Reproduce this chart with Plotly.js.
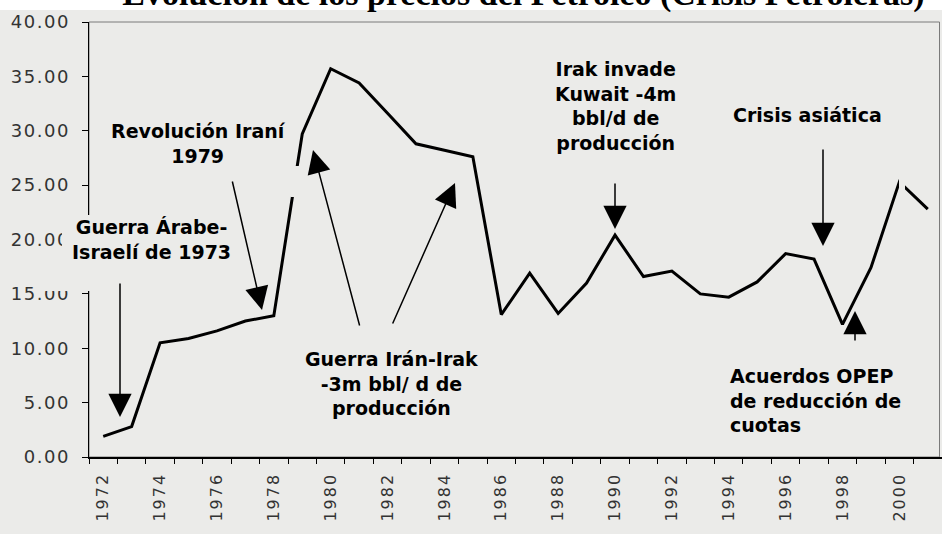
<!DOCTYPE html>
<html><head><meta charset="utf-8">
<script src="https://cdn.plot.ly/plotly-3.0.1.min.js"></script>
<style>
html,body{margin:0;padding:0;background:#ebebe9}
.xtick text{letter-spacing:2px}
.ytick text{letter-spacing:1.5px}
</style>
</head><body><div id="chart" style="width:942px;height:534px"></div>
<script>
// ---- data ----
const years = ["1972","1973","1974","1975","1976","1977","1978","1979","1980","1981",
               "1982","1983","1984","1985","1986","1987","1988","1989","1990","1991",
               "1992","1993","1994","1995","1996","1997","1998","1999","2000","2001"];
const prices = [1.9, 2.8, 10.5, 10.9, 11.6, 12.5, 13.0, 29.7, 35.7, 34.4,
                31.6, 28.8, 28.2, 27.6, 13.1, 16.9, 13.2, 16.0, 20.4, 16.6,
                17.1, 15.0, 14.7, 16.1, 18.7, 18.2, 12.2, 17.4, 25.3, 22.8];
const yTicks = [0, 5, 10, 15, 20, 25, 30, 35, 40];
const titleText = "Evolución de los precios del Petróleo (Crisis Petroleras)";
const notes = [
  {lines: ["Revolución Iraní", "1979"]},
  {lines: ["Guerra Árabe-", "Israelí de 1973"]},
  {lines: ["Guerra Irán-Irak", "-3m bbl/ d de", "producción"]},
  {lines: ["Irak invade", "Kuwait -4m", "bbl/d de", "producción"]},
  {lines: ["Crisis asiática"]},
  {lines: ["Acuerdos OPEP", "de reducción de", "cuotas"]}
];
const xTickText = years.map(y => (parseInt(y) % 2 === 0 ? y : ""));

// ---- geometry helpers (layout only) ----
const W = 942, H = 534, L = 89, R = 0, T = 22, B = 77;
const PW = W - L - R, PH = H - T - B;
const fx = p => (p - L) / PW;
const fy = p => (H - B - p) / PH;
const BG = "#ebebe9";

// text placements: [centerX or leftX, centerY, anchor]
const notePos = [
  [198, 143, "center"],
  [151, 239, "center"],
  [391, 383, "center"],
  [615, 106, "center"],
  [807, 115, "center"],
  [728, 400, "left"]
];
const annFont = {family: "DejaVu Sans", size: 19, color: "#000"};
const annotations = notes.map((n, i) => ({
  xref: "paper", yref: "paper",
  x: fx(notePos[i][0]), y: fy(notePos[i][1]),
  xanchor: notePos[i][2], yanchor: "middle", align: notePos[i][2],
  text: n.lines.map(s => "<b>" + s + "</b>").join("<br>"),
  showarrow: false, font: annFont
}));

function arrow(tx, ty, hx, hy) {
  return {xref: "paper", yref: "paper", x: fx(hx), y: fy(hy),
    ax: tx - hx, ay: ty - hy, text: "", showarrow: true,
    arrowhead: 2, arrowsize: 3.1, arrowwidth: 1.5, arrowcolor: "#000", standoff: 0};
}
annotations.push(
  arrow(120, 282, 120, 417),
  arrow(232, 180, 262, 310),
  arrow(360, 327, 313, 150),
  arrow(392, 325, 455, 183),
  arrow(615, 182, 615, 229),
  arrow(823, 148, 823, 246),
  arrow(855, 342, 855, 311)
);

function rect(x0, y0, x1, y1, fill, layer, line) {
  return {type: "rect", xref: "paper", yref: "paper",
    x0: fx(x0), x1: fx(x1), y0: fy(y1), y1: fy(y0),
    fillcolor: fill, line: line || {width: 0}, layer: layer};
}
const shapes = [
  rect(0, 0, W, 10, "#ffffff", "below"),
  rect(L, T, 939.5, H - B, "rgba(0,0,0,0)", "below", {color: "#7a7a7a", width: 1}),
  rect(62, 215, 237, 291, BG, "above"),
  rect(40, 283, 62, 291, BG, "above"),
  rect(291, 166, 300, 197, BG, "above"),
  rect(899, 176, 905, 192, BG, "above")
];

const trace = {
  type: "scatter", mode: "lines", x: years, y: prices,
  line: {color: "#000", width: 3}, hoverinfo: "skip"
};

const layout = {
  width: W, height: H,
  margin: {l: L, r: R, t: T, b: B, pad: 0},
  paper_bgcolor: BG, plot_bgcolor: BG,
  showlegend: false,
  title: {text: "<b>" + titleText + "</b>", xref: "container", yref: "container",
          x: 523.5 / W, xanchor: "center", y: 1 - 5 / H, yanchor: "bottom",
          font: {family: "Liberation Serif", size: 34, color: "#000"}},
  xaxis: {type: "category", range: [-0.5, years.length - 0.5],
          tickmode: "array", tickvals: years, ticktext: xTickText,
          tickson: "boundaries", ticks: "outside", ticklen: 5, tickwidth: 1, tickcolor: "#000",
          showline: true, linecolor: "#000", linewidth: 1.5, showgrid: false, zeroline: false,
          tickangle: -90, tickfont: {family: "DejaVu Sans", size: 16, color: "#333"},
          ticklabelstandoff: 8, fixedrange: true},
  yaxis: {range: [0, 40], tickmode: "array", tickvals: yTicks, tickformat: ".2f",
          ticks: "outside", ticklen: 6, tickwidth: 1, tickcolor: "#000",
          showline: true, linecolor: "#000", linewidth: 1.5, showgrid: false, zeroline: false,
          tickfont: {family: "DejaVu Sans", size: 18, color: "#333"},
          ticklabelstandoff: 8, fixedrange: true},
  annotations: annotations,
  shapes: shapes
};

Plotly.newPlot("chart", [trace], layout, {displayModeBar: false, staticPlot: true});
</script>
</body></html>
